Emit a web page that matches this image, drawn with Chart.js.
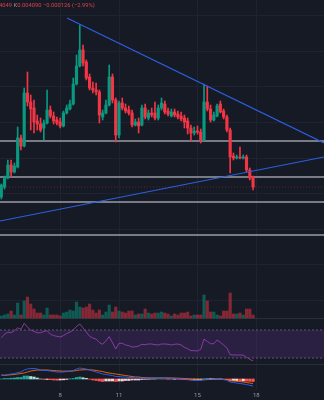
<!DOCTYPE html>
<html>
<head>
<meta charset="utf-8">
<script src="https://cdn.jsdelivr.net/npm/chart.js@4.4.0/dist/chart.umd.min.js"></script>
<style>
  html, body { margin: 0; background: #161a25; }
  #wrap { position: relative; width: 324px; height: 400px; overflow: hidden; }
  #legend { position: absolute; top: 2px; left: -1px; font: 5.8px Roboto, sans-serif; color: #d9434f; white-space: nowrap; }
  #legend .k { color: #9598a1; }
</style>
</head>
<body>
<div id="wrap">
  <canvas id="myChart"></canvas>
  <div id="legend">4049 <span class="k">K</span>0.004090 −0.000126 (−2.99%)</div>
</div>
<script>
// 4h candles, index 0 = day 5 00:00
const open = [0.00399,0.00409,0.00418,0.00431,0.00424,0.00429,0.00458,0.00450,0.00503,0.00494,
  0.00488,0.00475,0.00472,0.00468,0.00473,0.00486,0.00480,0.00476,0.00474,0.00470,
  0.00483,0.00487,0.00492,0.00512,0.00530,0.00546,0.00534,0.00519,0.00508,0.00506,
  0.00504,0.00479,0.00483,0.00491,0.00519,0.00496,0.00461,0.00493,0.00488,0.00486,
  0.00483,0.00471,0.00474,0.00471,0.00488,0.00478,0.00483,0.00483,0.00478,0.00488,
  0.00492,0.00485,0.00480,0.00484,0.00482,0.00480,0.00478,0.00475,0.00468,0.00463,
  0.00465,0.00464,0.00456,0.00494,0.00487,0.00476,0.00480,0.00492,0.00485,0.00479,
  0.00466,0.00440,0.00438,0.00439,0.00438,0.00439,0.00426,0.00419]
const high = [0.00412,0.00420,0.00436,0.00436,0.00433,0.00469,0.00461,0.00508,0.00524,0.00501,
  0.00496,0.00481,0.00478,0.00476,0.00506,0.00490,0.00484,0.00479,0.00478,0.00485,
  0.00491,0.00496,0.00518,0.00541,0.00571,0.00551,0.00536,0.00522,0.00514,0.00513,
  0.00506,0.00486,0.00496,0.00531,0.00522,0.00498,0.00495,0.00498,0.00492,0.00490,
  0.00486,0.00477,0.00478,0.00491,0.00492,0.00486,0.00488,0.00494,0.00491,0.00498,
  0.00495,0.00488,0.00487,0.00487,0.00485,0.00484,0.00481,0.00478,0.00471,0.00469,
  0.00470,0.00467,0.00512,0.00510,0.00491,0.00484,0.00492,0.00495,0.00487,0.00481,
  0.00468,0.00443,0.00441,0.00449,0.00441,0.00441,0.00428,0.00420]
const low = [0.00397,0.00407,0.00417,0.00419,0.00423,0.00428,0.00446,0.00449,0.00490,0.00466,
  0.00463,0.00466,0.00464,0.00456,0.00472,0.00478,0.00472,0.00471,0.00468,0.00469,
  0.00482,0.00486,0.00491,0.00511,0.00529,0.00530,0.00516,0.00506,0.00503,0.00501,
  0.00473,0.00476,0.00482,0.00490,0.00493,0.00454,0.00458,0.00486,0.00483,0.00481,
  0.00469,0.00470,0.00463,0.00470,0.00477,0.00476,0.00479,0.00476,0.00476,0.00486,
  0.00482,0.00480,0.00479,0.00479,0.00477,0.00475,0.00468,0.00462,0.00455,0.00461,
  0.00462,0.00453,0.00455,0.00485,0.00474,0.00475,0.00479,0.00483,0.00477,0.00464,
  0.00423,0.00436,0.00437,0.00437,0.00437,0.00424,0.00416,0.00406]
const close = [0.00411,0.00418,0.00431,0.00424,0.00430,0.00458,0.00450,0.00503,0.00494,0.00487,
  0.00474,0.00472,0.00466,0.00473,0.00486,0.00480,0.00475,0.00473,0.00470,0.00483,
  0.00488,0.00492,0.00512,0.00530,0.00546,0.00533,0.00518,0.00508,0.00506,0.00504,
  0.00481,0.00483,0.00491,0.00519,0.00496,0.00461,0.00493,0.00488,0.00485,0.00483,
  0.00471,0.00474,0.00470,0.00488,0.00479,0.00483,0.00481,0.00478,0.00488,0.00493,
  0.00484,0.00482,0.00484,0.00481,0.00479,0.00477,0.00474,0.00468,0.00463,0.00465,
  0.00464,0.00456,0.00494,0.00487,0.00476,0.00481,0.00490,0.00484,0.00479,0.00466,
  0.00439,0.00438,0.00439,0.00438,0.00439,0.00426,0.00418,0.00409]
// volume, millions
const volume = [2,3,4,7,3,15,3,17,21,14, 9,5,5,3,10,3,3,3,2,5,
  6,8,7,16,11,10,11,14,8,5, 8,3,6,13,6,11,7,6,5,7,
  7,3,4,4,9,5,4,5,5,6, 5,4,2,4,3,5,5,6,2,3,
  3,3,23,17,6,6,3,2,7,7, 25,4,4,5,3,9,9,3]
const rsi = [59,64,67,66,69,73,71,79.5,74,70, 68,66,66,68,69,64,62,61,60,62,
  65,67,70,75,78.6,73,67,61,58.6,57, 52,49.6,54.7,60.5,52,42.9,51,51,48.6,47.6,
  45.7,46,47,49.6,49,50,50,49,48.6,50, 50,49.6,48.6,49.6,50,48.6,45.3,43.3,40.5,40.5,
  40,42.4,57,53.8,50.3,50.5,55.7,52.4,48.6,44.3, 34.7,34.3,34.3,34.3,34,31,28,26]
// MACD values in millionths
const macd = [160,160,180,200,220,260,280,360,400,420, 420,400,360,340,340,320,300,280,280,278,
  300,320,340,400,440,420,400,360,320,280, 240,200,180,160,140,100,100,80,80,60,
  60,40,40,40,40,40,40,40,44,48, 40,40,32,28,20,8,-8,-20,-40,-52,
  -60,-60,-20,0,0,-8,0,-8,-24,-52, -120,-140,-160,-180,-200,-224,-252,-280]
const signal = [160,140,160,168,180,200,220,240,280,320, 340,360,360,360,360,348,340,328,320,312,
  316,312,320,340,360,368,372,368,360,340, 320,300,260,240,220,200,180,160,140,120,
  100,80,80,60,52,48,42,41,41,42, 42,41,40,36,32,28,20,12,0,-12,
  -24,-32,-32,-24,-20,-16,-12,-12,-16,-24, -40,-64,-84,-100,-120,-140,-160,-180]
const hist = [0,20,20,32,40,60,60,120,120,100, 80,40,0,-20,-20,-28,-40,-48,-40,-34,
  -16,8,20,60,80,52,28,-8,-40,-60, -80,-100,-80,-80,-80,-100,-80,-80,-60,-60,
  -40,-40,-40,-20,-12,-8,-2,-1,3,6, -2,-1,-8,-8,-12,-20,-28,-32,-40,-40,
  -36,-28,12,24,20,8,12,4,-8,-28, -80,-76,-76,-80,-80,-84,-92,-100]

const dayTicks = [18, 36, 60, 78]
const dayLabels = ['8', '11', '15', '18']
const gridPrices = [0.005803, 0.005447, 0.005091, 0.004735, 0.004379, 0.004023, 0.003667, 0.003311, 0.002955]
const levels = [0.00455, 0.00419, 0.00394, 0.00361]
const trendDown = [[20.1, 0.00578], [98.7, 0.00453]]
const trendUp = [[-0.4, 0.00375], [98.7, 0.00439]]

const xMin = -0.4, xMax = 98.7
const H = 390 // plot height, panes are placed inside it
const paneBreaks = [318.5, 364.5]
function paneRange(vA, yA, vB, yB) {
  const per = (vA - vB) / (yB - yA)
  return { min: vB - (H - yB) * per, max: vA + yA * per }
}
const priceRange = paneRange(0.00596, 0, 0.00409, 187)
const volRange = paneRange(10, 308, 0, 318)
const rsiRange = paneRange(70, 330, 30, 358)
const macdRange = paneRange(0, 379, -40, 380)

const up = '#089981', down = '#f23645'
const idx = open.map((_, i) => i)
const candleColor = idx.map(i => close[i] >= open[i] ? up : down)
const volColor = idx.map(i => close[i] >= open[i] ? 'rgba(8,153,129,0.5)' : 'rgba(242,54,69,0.5)')
const histColor = hist.map((h, i) => {
  const prev = i > 0 ? hist[i - 1] : 0
  if (h >= 0) return h >= prev ? '#26a69a' : '#b2dfdb'
  return h < prev ? '#ff5252' : '#ffcdd2'
})

const flat = (y) => [{ x: xMin, y }, { x: xMax, y }]
const lineDefaults = { type: 'line', pointRadius: 0, tension: 0, fill: false }

const datasets = [
  { ...lineDefaults, data: trendDown.map(([x, y]) => ({ x, y })), borderColor: '#2c5fe0', borderWidth: 1.2, yAxisID: 'yPrice', order: -2 },
  { ...lineDefaults, data: trendUp.map(([x, y]) => ({ x, y })), borderColor: '#2c5fe0', borderWidth: 1.2, yAxisID: 'yPrice', order: -2 },
  ...levels.map(lv => ({ ...lineDefaults, data: flat(lv), borderColor: '#9a9ca3', borderWidth: 1.3, yAxisID: 'yPrice', order: 3 })),
  { ...lineDefaults, data: flat(close[close.length - 1]), borderColor: 'rgba(242,54,69,0.35)', borderWidth: 1, borderDash: [1, 2], yAxisID: 'yPrice', order: 4 },
  { type: 'bar', data: idx.map(i => ({ x: i, y: [open[i], close[i]] })), backgroundColor: candleColor,
    barThickness: 2.5, minBarLength: 1, grouped: false, yAxisID: 'yPrice', order: 0 },
  { type: 'bar', data: idx.map(i => ({ x: i, y: [low[i], high[i]] })), backgroundColor: candleColor,
    barThickness: 1, grouped: false, yAxisID: 'yPrice', order: 1 },
  { type: 'bar', data: idx.map(i => ({ x: i, y: volume[i] })), backgroundColor: volColor,
    barThickness: 2.5, grouped: false, yAxisID: 'yVol', order: 2 },
  { ...lineDefaults, data: flat(70), borderColor: 'rgba(160,150,180,0.6)', borderWidth: 0.8, borderDash: [2, 2], yAxisID: 'yRsi', order: 5 },
  { ...lineDefaults, data: flat(30), borderColor: 'rgba(160,150,180,0.6)', borderWidth: 0.8, borderDash: [2, 2], yAxisID: 'yRsi', order: 5,
    fill: { value: 70 }, backgroundColor: 'rgba(120,60,185,0.2)' },
  { ...lineDefaults, data: idx.map(i => ({ x: i, y: rsi[i] })), borderColor: '#9440ac', borderWidth: 0.9, yAxisID: 'yRsi', order: 0 },
  { type: 'bar', data: idx.map(i => ({ x: i, y: hist[i] })), backgroundColor: histColor,
    barThickness: 2.5, grouped: false, yAxisID: 'yMacd', order: 2 },
  { ...lineDefaults, data: idx.map(i => ({ x: i, y: macd[i] })), borderColor: '#2962ff', borderWidth: 0.9, yAxisID: 'yMacd', order: 0 },
  { ...lineDefaults, data: idx.map(i => ({ x: i, y: signal[i] })), borderColor: '#ff6d00', borderWidth: 0.9, yAxisID: 'yMacd', order: 0 }
]

const paneLines = {
  id: 'paneLines',
  beforeDatasetsDraw(chart) {
    const { ctx, chartArea } = chart
    ctx.save()
    ctx.strokeStyle = '#2a2e39'
    ctx.lineWidth = 1
    paneBreaks.forEach(y => {
      ctx.beginPath()
      ctx.moveTo(chartArea.left, chartArea.top + y)
      ctx.lineTo(chartArea.right, chartArea.top + y)
      ctx.stroke()
    })
    ctx.restore()
  }
}

Chart.defaults.font.family = 'Roboto'

const hiddenY = (r) => ({ axis: 'y', position: 'right', display: false, min: r.min, max: r.max })

const config = {
  type: 'bar',
  data: { datasets },
  options: {
    responsive: true,
    maintainAspectRatio: false,
    animation: false,
    layout: { padding: 0 },
    plugins: { legend: { display: false }, tooltip: { enabled: false } },
    scales: {
      x: {
        type: 'linear', min: xMin, max: xMax, offset: false,
        grid: { color: '#1f2330', drawTicks: false, offset: false },
        border: { display: false },
        afterBuildTicks: axis => { axis.ticks = dayTicks.map(v => ({ value: v })) },
        ticks: { color: '#9598a1', font: { size: 6 }, padding: 1.4, autoSkip: false, maxRotation: 0,
          callback: v => dayLabels[dayTicks.indexOf(v)] }
      },
      yPrice: {
        axis: 'y', position: 'right', min: priceRange.min, max: priceRange.max,
        grid: { color: '#1f2330', drawTicks: false },
        border: { display: false },
        ticks: { display: false },
        afterBuildTicks: axis => { axis.ticks = gridPrices.map(v => ({ value: v })) }
      },
      yVol: hiddenY(volRange),
      yRsi: hiddenY(rsiRange),
      yMacd: hiddenY(macdRange)
    }
  },
  plugins: [paneLines]
}

const myChart = new Chart(document.getElementById('myChart'), config)
</script>
</body>
</html>
